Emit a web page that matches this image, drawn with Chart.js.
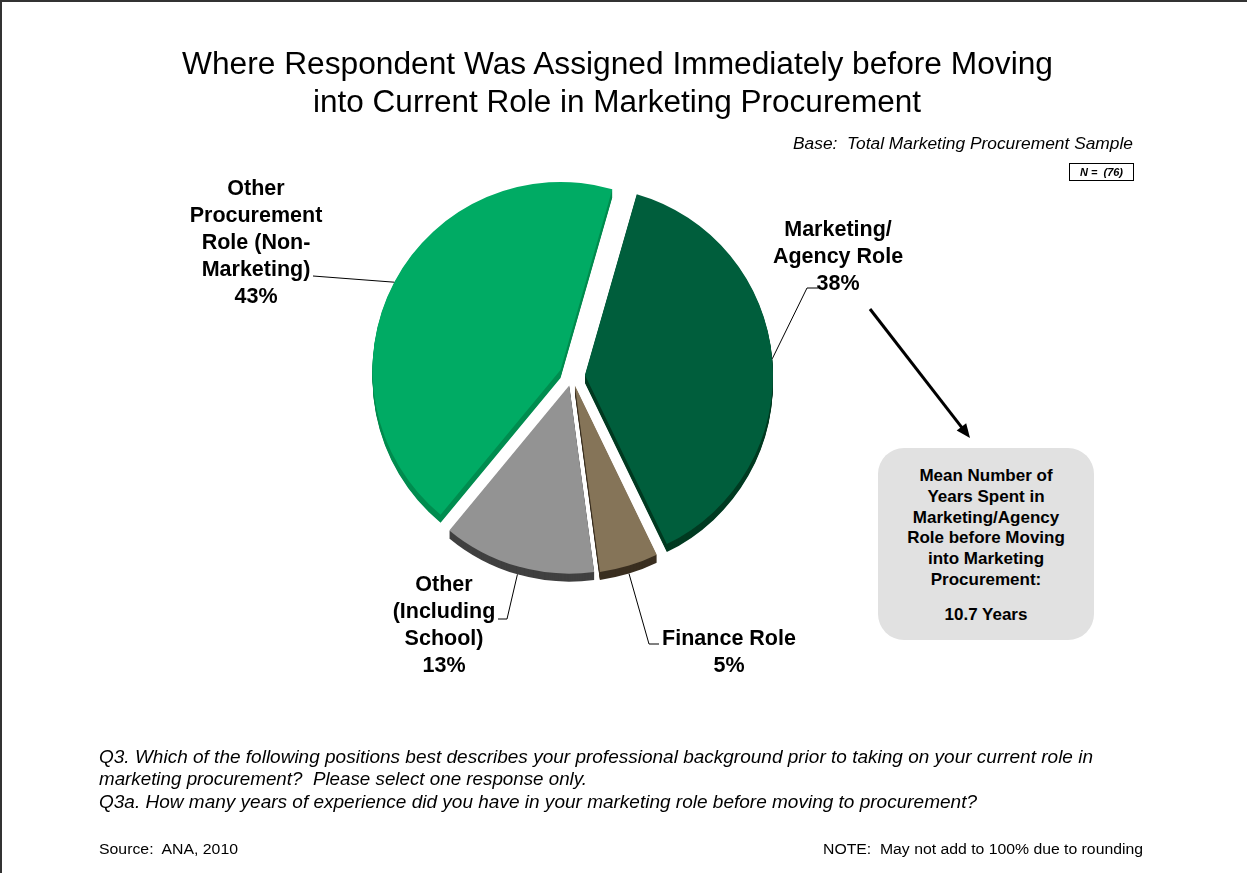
<!DOCTYPE html>
<html lang="en">
<head>
<meta charset="UTF-8">
<title>Where Respondent Was Assigned</title>
<script src="https://cdn.jsdelivr.net/npm/chart.js@4.4.1/dist/chart.umd.min.js"></script>
<style>
  body { margin: 0; background: #fff; font-family: "Liberation Sans", Arial, sans-serif; }
  #page { position: relative; width: 1247px; height: 873px; overflow: hidden; }
  #frame { position: absolute; left: 0; top: 0; width: 1247px; height: 873px; box-sizing: border-box;
           border-top: 2px solid #333; border-left: 2px solid #333; pointer-events: none; }
  #pie { position: absolute; left: 0; top: 0; }
  .t { position: absolute; white-space: nowrap; transform-origin: 0 50%; line-height: 1; }
  .title { font-size: 31px; color: #000; }
  .base { font-size: 16px; font-style: italic; }
  .q { font-size: 18px; font-style: italic; }
  .small { font-size: 14px; }
  #nbox { position: absolute; left: 1069px; top: 163px; width: 65px; height: 18px; box-sizing: border-box;
          border: 1px solid #000; font: bold italic 11px "Liberation Sans", Arial, sans-serif;
          text-align: center; line-height: 16px; }
  #meanbox { position: absolute; left: 878px; top: 448px; width: 216px; height: 192px;
             background: #e1e1e1; border-radius: 26px; text-align: center;
             font-weight: bold; font-size: 17px; line-height: 20.8px; padding-top: 18px; box-sizing: border-box; }
  #meanbox .yrs { margin-top: 14px; }
</style>
</head>
<body>
<div id="page">
  <canvas id="pie" width="1247" height="873"></canvas>
  <div id="frame"></div>

  <div class="t title" data-x="182" data-y="63" data-w="871">Where Respondent Was Assigned Immediately before Moving</div>
  <div class="t title" data-x="313" data-y="101" data-w="608">into Current Role in Marketing Procurement</div>

  <div class="t base" data-x="793" data-y="144" data-w="340">Base:&nbsp; Total Marketing Procurement Sample</div>
  <div id="nbox">N =&nbsp; (76)</div>

  <div id="meanbox">
    Mean Number of<br>Years Spent in<br>Marketing/Agency<br>Role before Moving<br>into Marketing<br>Procurement:
    <div class="yrs">10.7 Years</div>
  </div>

  <div class="t q" data-x="99" data-y="757" data-w="994">Q3. Which of the following positions best describes your professional background prior to taking on your current role in</div>
  <div class="t q" data-x="99" data-y="779" data-w="488">marketing procurement?&nbsp; Please select one response only.</div>
  <div class="t q" data-x="99" data-y="802" data-w="878">Q3a. How many years of experience did you have in your marketing role before moving to procurement?</div>

  <div class="t small" data-x="99" data-y="849" data-w="139">Source:&nbsp; ANA, 2010</div>
  <div class="t small" data-x="823" data-y="849" data-w="320">NOTE:&nbsp; May not add to 100% due to rounding</div>
</div>

<script>
  // data
  const categories = ["Marketing/Agency Role", "Finance Role", "Other (Including School)", "Other Procurement Role (Non-Marketing)"];
  const percentages = [38, 5, 13, 43];
  const labelLines = [
    ["Marketing/", "Agency Role", "38%"],
    ["Finance Role", "5%"],
    ["Other", "(Including", "School)", "13%"],
    ["Other", "Procurement", "Role (Non-", "Marketing)", "43%"],
  ];

  // styling
  const topColors = ["#005e3c", "#857458", "#939393", "#00ab64"];
  const sideColors = ["#003a21", "#3a2f20", "#404040", "#008c4f"];
  const explode = [13, 10, 10, 13];
  const depth = 8;
  const labelPos = [{ x: 838, y: 230 }, { x: 729, y: 639 }, { x: 444, y: 585 }, { x: 256, y: 189 }];
  // leader line: points from the label side, ends on the slice edge
  const leaderFrom = [[[818, 288], [807, 288]], [[659, 644], [649, 644]], [[498, 619], [507, 619]], [[313, 276]]];
  const leaderExtra = [0, depth, depth, 0];

  // fit text rows to their measured widths in the reference
  document.querySelectorAll(".t").forEach(el => {
    const w = el.getBoundingClientRect().width;
    el.style.left = el.dataset.x + "px";
    el.style.top = (el.dataset.y - el.offsetHeight / 2) + "px";
    el.style.transform = "scaleX(" + (el.dataset.w / w) + ")";
  });

  function midDir(arc) {
    const m = (arc.startAngle + arc.endAngle) / 2;
    return [Math.cos(m), Math.sin(m)];
  }

  const pie3d = {
    id: "pie3d",
    beforeDatasetsDraw(chart) {
      const ctx = chart.ctx;
      const arcs = chart.getDatasetMeta(0).data;
      for (let k = depth; k >= 1; k--) {
        arcs.forEach((arc, i) => {
          const [dx, dy] = midDir(arc);
          const opts = arc.options;
          ctx.save();
          ctx.translate(dx * explode[i], dy * explode[i] + k);
          arc.options = { ...opts, backgroundColor: sideColors[i], borderColor: sideColors[i] };
          arc.draw(ctx);
          arc.options = opts;
          ctx.restore();
        });
      }
      arcs.forEach((arc, i) => {
        const [dx, dy] = midDir(arc);
        ctx.save();
        ctx.translate(dx * explode[i], dy * explode[i]);
        arc.draw(ctx);
        ctx.restore();
      });
      return false;
    },
    afterDraw(chart) {
      const ctx = chart.ctx;
      const arcs = chart.getDatasetMeta(0).data;
      ctx.save();
      ctx.fillStyle = "#000";
      ctx.font = "bold 21.5px 'Liberation Sans', Arial, sans-serif";
      ctx.textAlign = "center";
      ctx.textBaseline = "middle";
      arcs.forEach((arc, i) => {
        labelLines[i].forEach((s, j) => ctx.fillText(s, labelPos[i].x, labelPos[i].y + j * 27));
        const [dx, dy] = midDir(arc);
        const r = arc.outerRadius + explode[i];
        const ax = arc.x + dx * r, ay = arc.y + dy * r + leaderExtra[i];
        ctx.beginPath();
        ctx.lineWidth = 1;
        ctx.strokeStyle = "#000";
        leaderFrom[i].forEach((p, j) => j ? ctx.lineTo(p[0], p[1]) : ctx.moveTo(p[0], p[1]));
        ctx.lineTo(ax, ay);
        ctx.stroke();
      });
      // arrow to the mean box
      const x0 = 870, y0 = 309, x1 = 970, y1 = 438;
      const a = Math.atan2(y1 - y0, x1 - x0);
      ctx.beginPath();
      ctx.lineWidth = 3;
      ctx.moveTo(x0, y0);
      ctx.lineTo(x1 - Math.cos(a) * 10, y1 - Math.sin(a) * 10);
      ctx.stroke();
      ctx.beginPath();
      ctx.moveTo(x1, y1);
      ctx.lineTo(x1 - Math.cos(a) * 14 + Math.sin(a) * 6, y1 - Math.sin(a) * 14 - Math.cos(a) * 6);
      ctx.lineTo(x1 - Math.cos(a) * 14 - Math.sin(a) * 6, y1 - Math.sin(a) * 14 + Math.cos(a) * 6);
      ctx.closePath();
      ctx.fill();
      ctx.restore();
    }
  };

  new Chart(document.getElementById("pie").getContext("2d"), {
    type: "pie",
    data: {
      labels: categories,
      datasets: [{
        data: percentages,
        backgroundColor: topColors,
        borderWidth: 0,
      }],
    },
    options: {
      responsive: false,
      animation: false,
      events: [],
      rotation: 16,
      radius: 188,
      layout: { padding: { left: 100, right: 203, top: 100, bottom: 221 } },
      plugins: { legend: { display: false }, tooltip: { enabled: false } },
    },
    plugins: [pie3d],
  });
</script>
</body>
</html>
